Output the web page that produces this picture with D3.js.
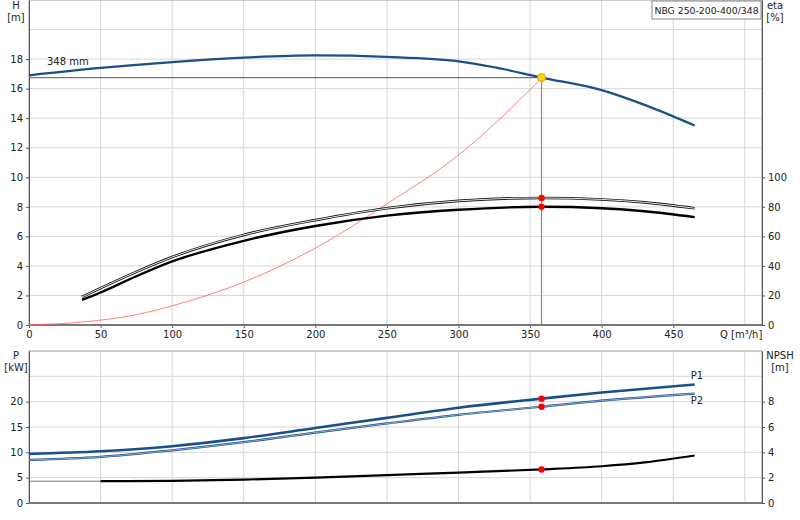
<!DOCTYPE html><html><head><meta charset="utf-8"><script src="https://cdn.jsdelivr.net/npm/d3@7"></script>
<style>body{margin:0;background:#fff}text{font-family:"DejaVu Sans",sans-serif;font-size:10px;fill:#222}</style></head><body><svg id="c" width="800" height="520"></svg><script>
const qTicks=[0,50,100,150,200,250,300,350,400,450];
const hTicks=[0,2,4,6,8,10,12,14,16,18];
const etaTicks=[0,20,40,60,80,100];
const pTicks=[0,5,10,15,20];
const npshTicks=[0,2,4,6,8];
const headQ=[0,50,100,150,200,250,300,325,358,400,430,465];
const headH=[16.9,17.4,17.8,18.1,18.25,18.15,17.85,17.45,16.75,15.9,14.9,13.5];
const effQ=[37,50,75,100,150,200,250,300,358,400,430,465];
const eta1=[19,25,36,46,61,71,79,84,86,85,83,79];
const eta2=[17,22,33,43,57,67,74,78,80,79,77,73];
const sysQ=[0,37,75,100,150,200,250,300,358];
const sysH=[0,0.2,0.7,1.3,2.9,5.2,8.2,11.5,16.7];
const pQ=[0,50,100,150,200,250,300,358,400,465];
const p1=[9.7,10.2,11.2,12.8,14.8,16.8,18.8,20.6,21.8,23.4];
const p2=[8.5,9.1,10.4,12.0,13.9,15.7,17.4,19.0,20.2,21.6];
const npshQ=[50,100,150,200,250,300,358,400,430,465];
const npsh=[1.72,1.75,1.85,2.0,2.2,2.4,2.65,2.9,3.2,3.75];
const dutyQ=358, dutyH=16.75, dutyEta1=86, dutyEta2=80, dutyP1=20.6, dutyP2=19.0, dutyNpsh=2.65;
const title="NBG 250-200-400/348";

const svg=d3.select("#c");
const L=29,R=762;
const x=d3.scaleLinear().domain([0,512]).range([L,R]);
const yH=d3.scaleLinear().domain([0,22]).range([325,0]);
const yE=d3.scaleLinear().domain([0,220]).range([325,0]);
const yP=d3.scaleLinear().domain([0,30]).range([503,351]);
const yN=d3.scaleLinear().domain([0,12]).range([503,351]);
const grid="#d6d6d6";
function grids(y0,y1,ys,yv){
  qTicks.concat([500]).forEach(q=>{if(q>0)svg.append("line").attr("x1",x(q)).attr("x2",x(q)).attr("y1",y0).attr("y2",y1).attr("stroke",grid)});
  yv.forEach(v=>svg.append("line").attr("x1",L).attr("x2",R).attr("y1",ys(v)).attr("y2",ys(v)).attr("stroke",grid));
}
grids(0,325,yH,[2,4,6,8,10,12,14,16,18,20]);
grids(351,503,yP,[5,10,15,20,25]);
svg.append("rect").attr("x",L).attr("y",0).attr("width",R-L).attr("height",325).attr("fill","none").attr("stroke","#999");
svg.append("rect").attr("x",L).attr("y",351).attr("width",R-L).attr("height",152).attr("fill","none").attr("stroke","#999");
const ax=(g,a)=>{g.call(a);g.selectAll("path").attr("stroke","#555");g.selectAll("line").attr("stroke","#555");g.selectAll("text").style("font-size","10px");};
ax(svg.append("g").attr("transform","translate(0,325)"),d3.axisBottom(x).tickValues(qTicks).tickSize(3).tickSizeOuter(0));
ax(svg.append("g").attr("transform",`translate(${L},0)`),d3.axisLeft(yH).tickValues(hTicks).tickSize(3).tickSizeOuter(0));
ax(svg.append("g").attr("transform",`translate(${R},0)`),d3.axisRight(yE).tickValues(etaTicks).tickSize(3).tickSizeOuter(0));
ax(svg.append("g").attr("transform",`translate(${L},0)`),d3.axisLeft(yP).tickValues(pTicks).tickSize(3).tickSizeOuter(0));
ax(svg.append("g").attr("transform",`translate(${R},0)`),d3.axisRight(yN).tickValues(npshTicks).tickSize(3).tickSizeOuter(0));
svg.append("line").attr("x1",L).attr("x2",R).attr("y1",325).attr("y2",325).attr("stroke","#777").attr("stroke-width",2);
svg.append("line").attr("x1",L).attr("x2",R).attr("y1",503).attr("y2",503).attr("stroke","#777").attr("stroke-width",2);
const txt=(t,xx,yy,a)=>svg.append("text").attr("x",xx).attr("y",yy).attr("text-anchor",a||"middle").text(t);
txt("H",16,9);txt("[m]",16,21);txt("eta",775,9);txt("[%]",775,21);
txt("P",16,359);txt("[kW]",16,371);txt("NPSH",780,359);txt("[m]",780,371);
svg.append("text").attr("x",720).attr("y",338).attr("text-anchor","start").html("Q [m&#179;/h]");
svg.append("rect").attr("x",652).attr("y",1).attr("width",109).attr("height",18).attr("fill","#fff").attr("stroke","#888");
txt(title,706.5,14).style("font-size","9.3px");
txt("348 mm",47,65,"start");
svg.append("line").attr("x1",L).attr("x2",x(dutyQ)).attr("y1",yH(dutyH)).attr("y2",yH(dutyH)).attr("stroke","#777").attr("stroke-width",1.2);
svg.append("line").attr("x1",x(dutyQ)).attr("x2",x(dutyQ)).attr("y1",yH(dutyH)).attr("y2",325).attr("stroke","#888").attr("stroke-width",1.2);
const line=(xs,ys,yS,col,w)=>svg.append("path").attr("d",d3.line().curve(d3.curveMonotoneX).x((d,i)=>x(xs[i])).y(d=>yS(d))(ys)).attr("fill","none").attr("stroke",col).attr("stroke-width",w);
line(sysQ,sysH,yH,"#ff6060",0.8);
line(headQ,headH,yH,"#1a4f8a",2.2);
line(effQ,eta1,yE,"#111",2.6);line(effQ,eta1,yE,"#fff",0.9);
line(effQ,eta2,yE,"#000",2.4);
line(pQ,p1,yP,"#1a4f8a",2.6);
line(pQ,p2,yP,"#1a4f8a",2.2);line(pQ,p2,yP,"#fff",0.5);
svg.append("line").attr("x1",L).attr("x2",x(npshQ[0])).attr("y1",yN(npsh[0])).attr("y2",yN(npsh[0])).attr("stroke","#777");
line(npshQ,npsh,yN,"#000",2.2);
txt("P1",697,379);txt("P2",697,404);
const dot=(yy,c,r)=>svg.append("circle").attr("cx",x(dutyQ)).attr("cy",yy).attr("r",r||3.2).attr("fill",c).attr("stroke",c=="#ffd400"?"#e0a000":"none");
dot(yH(dutyH),"#ffd400",4);dot(yE(dutyEta1),"#f00");dot(yE(dutyEta2),"#f00");
dot(yP(dutyP1),"#f00");dot(yP(dutyP2),"#f00");dot(yN(dutyNpsh),"#f00");
</script></body></html>
